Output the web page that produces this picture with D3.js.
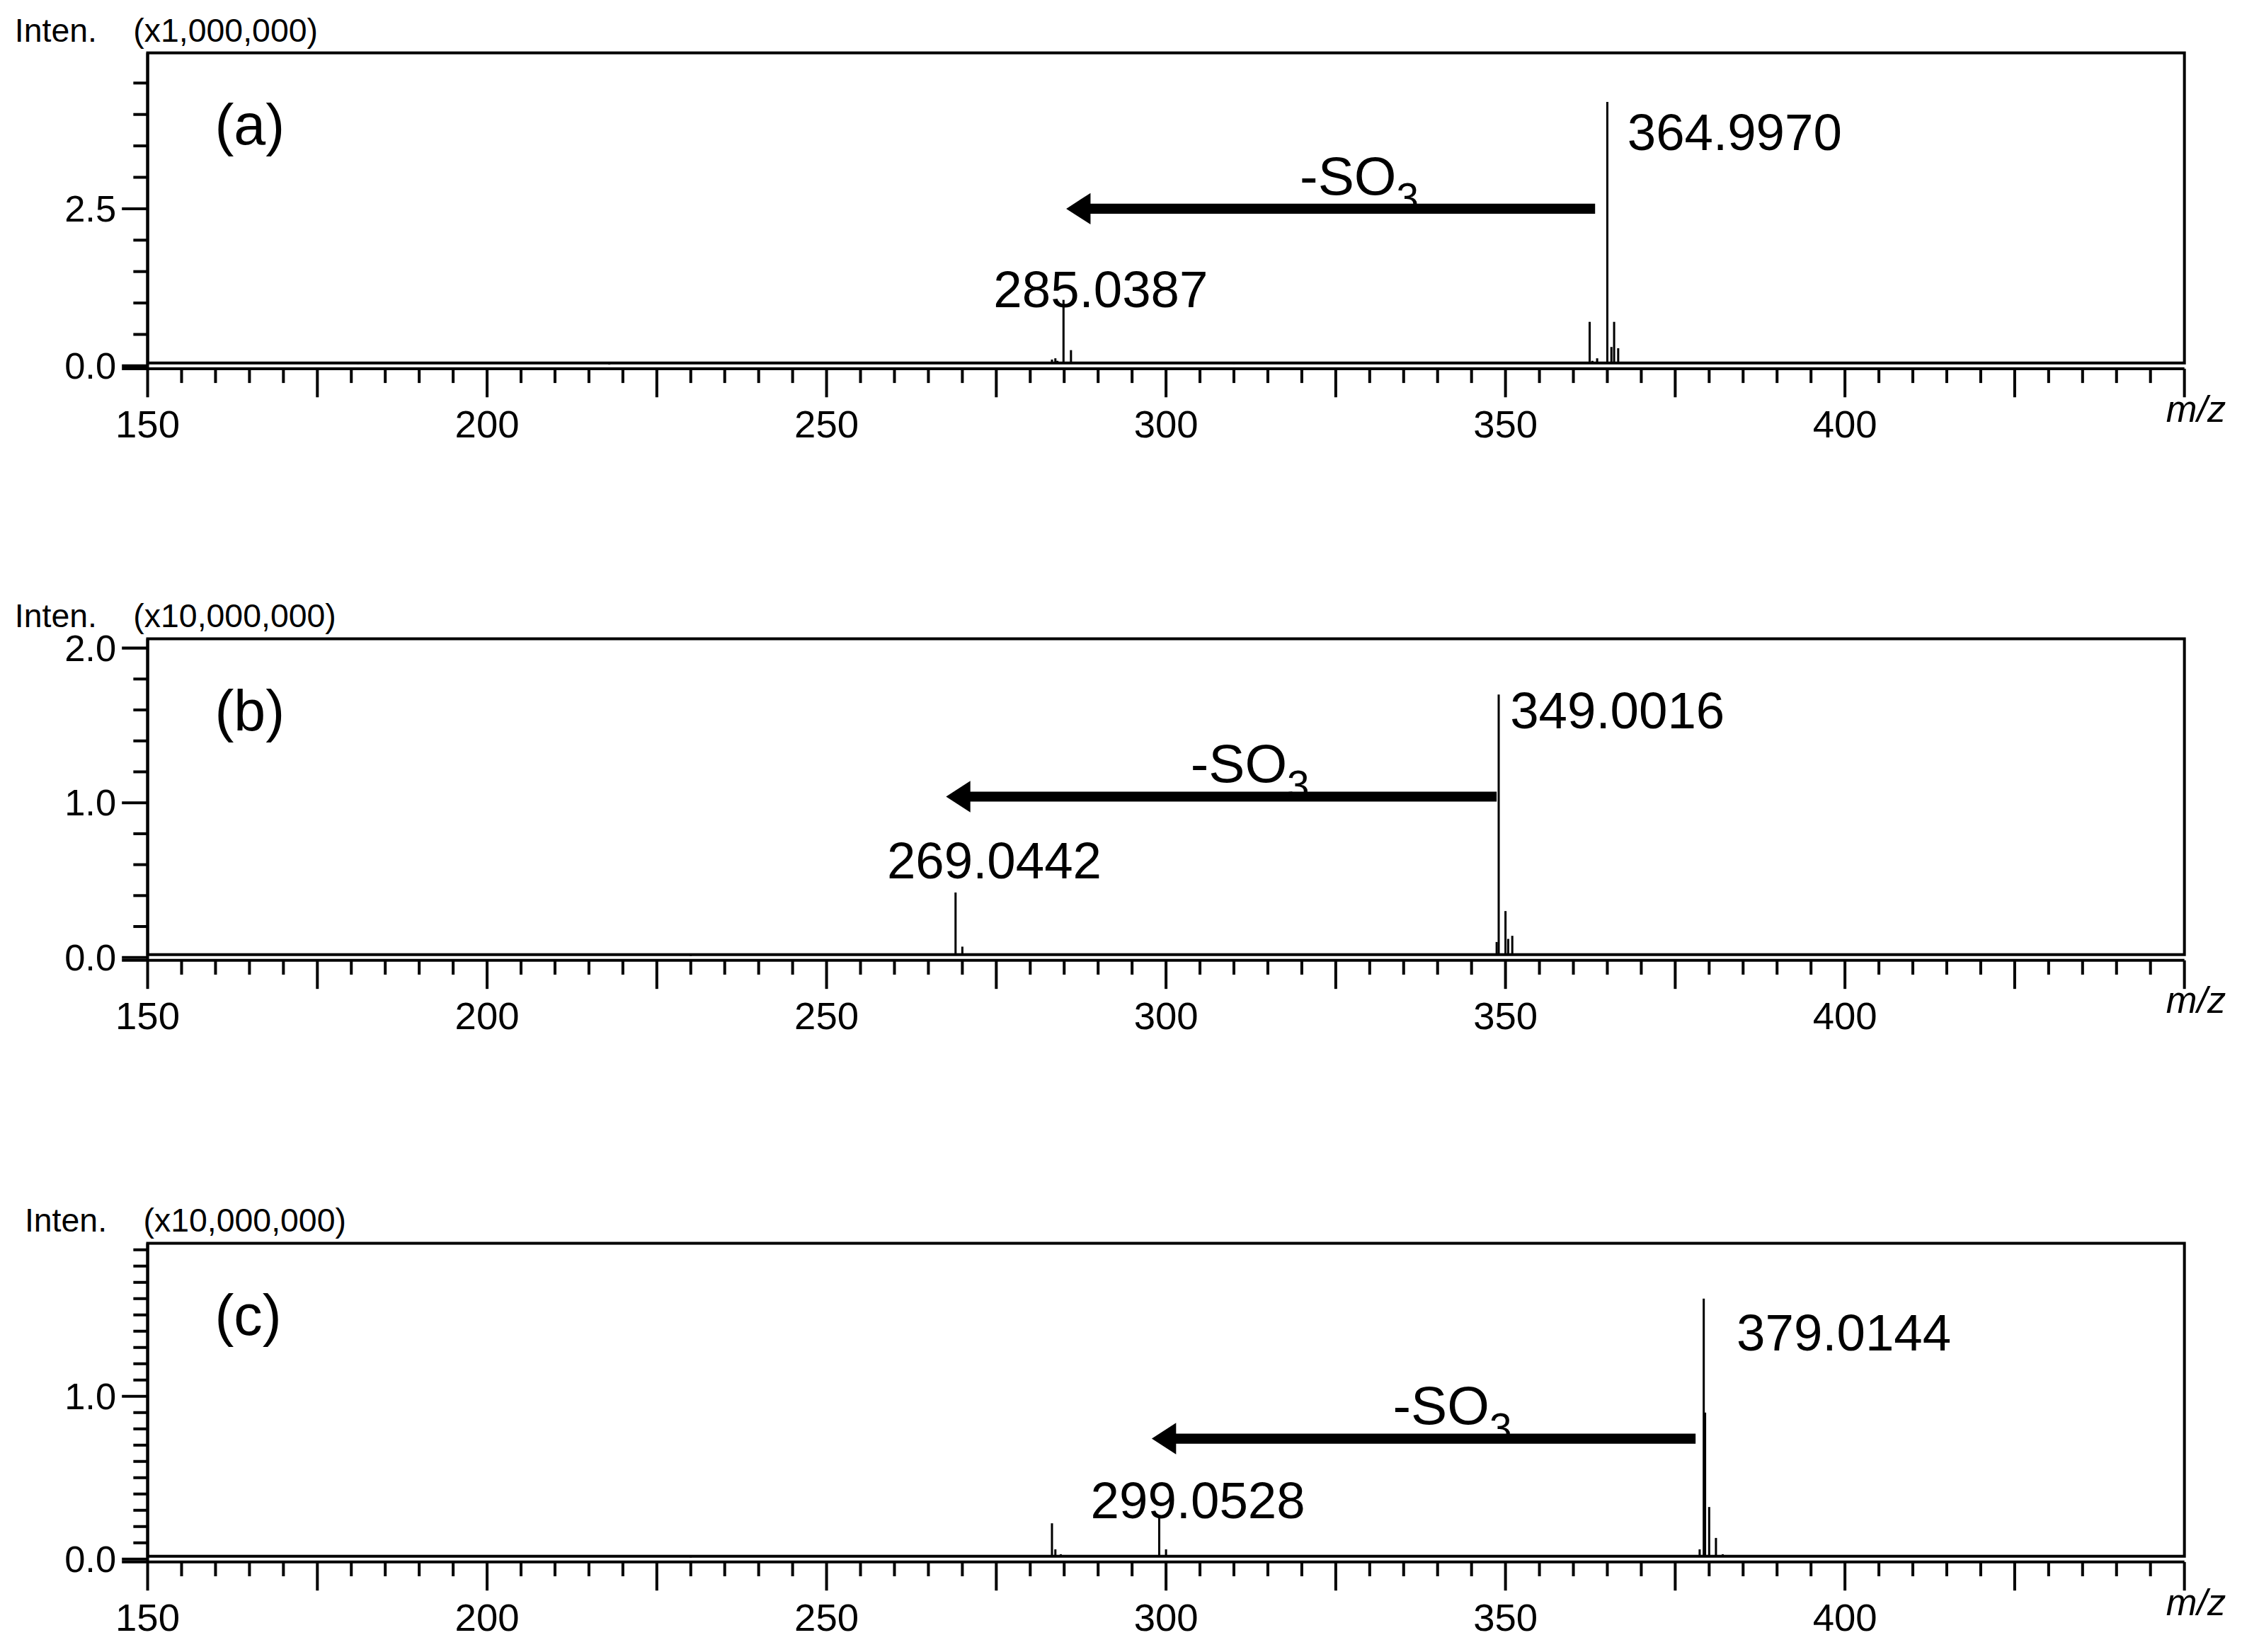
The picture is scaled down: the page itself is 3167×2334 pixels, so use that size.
<!DOCTYPE html>
<html>
<head>
<meta charset="utf-8">
<script src="https://cdn.jsdelivr.net/npm/d3@7"></script>
<style>
  body { margin: 0; background: #fff; }
  text { font-family: "Liberation Sans", Arial, sans-serif; fill: #000; }
</style>
</head>
<body>
<div id="chart-container"></div>
<script>
// m/z and intensity values for each spectrum (intensity in units of the panel scale)
const mzA = [181, 218, 254, 283.2, 283.7, 284.0, 284.9, 286.0, 310, 362.4, 362.8, 363.5, 365.0, 365.6, 366.0, 366.6, 367.5, 380.0];
const intA = [0.03, 0.02, 0.04, 0.1, 0.12, 0.08, 1.05, 0.25, 0.03, 0.7, 0.08, 0.12, 4.2, 0.3, 0.7, 0.28, 0.06, 0.06];
const mzB = [230, 255, 269.0, 270.0, 271.0, 348.7, 349.0, 350.0, 350.4, 351.0, 352.0];
const intB = [0.01, 0.015, 0.42, 0.07, 0.02, 0.1, 1.7, 0.3, 0.12, 0.14, 0.02];
const mzC = [230, 255, 283.2, 283.7, 284.5, 299.0, 300.0, 378.6, 379.2, 379.4, 380.0, 381.0, 382.0];
const intC = [0.01, 0.015, 0.22, 0.06, 0.03, 0.27, 0.06, 0.06, 1.6, 0.9, 0.32, 0.13, 0.03];

const panelNames = ["(a)", "(b)", "(c)"];
const scaleLabels = ["(x1,000,000)", "(x10,000,000)", "(x10,000,000)"];
const yMax = [4.98, 2.06, 1.94];
const yMinorStep = [0.5, 0.2, 0.1];
const yLabelTicks = [[0, 2.5], [0, 1, 2], [0, 1]];
const peakLabels = [
  [{ mz: 284.9, text: "285.0387", y: 0.93, dx: -49 }, { mz: 365.0, text: "364.9970", y: 3.43, dx: 14 }],
  [{ mz: 269.0, text: "269.0442", y: 0.51, dx: -48 }, { mz: 349.0, text: "349.0016", y: 1.48, dx: 8 }],
  [{ mz: 299.0, text: "299.0528", y: 0.25, dx: -48 }, { mz: 379.2, text: "379.0144", y: 1.28, dx: 23 }]
];
const arrowFrom = [363.2, 348.7, 378.0];
const arrowTo = [285.3, 267.6, 297.9];
const arrowY = [2.5, 1.04, 0.74];
const peakSets = [[mzA, intA], [mzB, intB], [mzC, intC]];
const xMajor = [150, 200, 250, 300, 350, 400];

// layout in a 1568 x 1156 design space
const W = 1568, H = 1156;
const left = 103, right = 1528;
const tops = [37, 447, 870];
const bottoms = [256, 670, 1091];

const svg = d3.select("#chart-container")
  .append("svg")
  .attr("width", 3167)
  .attr("height", 2334)
  .attr("viewBox", `0 0 ${W} ${H}`);

const x = d3.scaleLinear().domain([150, 450]).range([left, right]);

panelNames.forEach((name, p) => {
  const top = tops[p], bot = bottoms[p];
  const y = d3.scaleLinear().domain([0, yMax[p]]).range([bot, top]);
  const g = svg.append("g");
  const off = p === 2 ? 7 : 0;

  g.append("text").attr("x", 10 + off).attr("y", 29 + top - 37).attr("font-size", 23).text("Inten.");
  g.append("text").attr("x", 93 + off).attr("y", 29 + top - 37).attr("font-size", 23).text(scaleLabels[p]);

  // frame
  g.append("rect").attr("x", left).attr("y", top).attr("width", right - left).attr("height", bot - 2 - top)
    .attr("fill", "none").attr("stroke", "#000").attr("stroke-width", 2);

  // y axis
  const yTicks = d3.range(0, yMax[p] + 1e-9, yMinorStep[p]);
  const yAxis = g.append("g").attr("transform", `translate(${left},0)`);
  yAxis.append("line").attr("y1", top).attr("y2", bot + 2).attr("stroke", "#000").attr("stroke-width", 2);
  yAxis.selectAll("line.t").data(yTicks).enter().append("line").attr("class", "t")
    .attr("x1", d => yLabelTicks[p].some(v => Math.abs(v - d) < 1e-6) ? -18 : -10).attr("x2", 0)
    .attr("y1", d => y(d)).attr("y2", d => y(d)).attr("stroke", "#000").attr("stroke-width", 2);
  yAxis.selectAll("text").data(yLabelTicks[p]).enter().append("text")
    .attr("x", -22).attr("y", d => y(d) + 9).attr("text-anchor", "end").attr("font-size", 26)
    .text(d => d.toFixed(1));

  // x axis
  const axY = bot + 2;
  const xTicks = d3.range(150, 451, 5);
  const xAxis = g.append("g");
  xAxis.append("line").attr("x1", left - 18).attr("x2", right).attr("y1", axY).attr("y2", axY)
    .attr("stroke", "#000").attr("stroke-width", 2);
  xAxis.selectAll("line.t").data(xTicks).enter().append("line").attr("class", "t")
    .attr("x1", d => x(d)).attr("x2", d => x(d)).attr("y1", axY)
    .attr("y2", d => axY + (d % 25 === 0 ? 20 : 10)).attr("stroke", "#000").attr("stroke-width", 2);
  xAxis.selectAll("text").data(xMajor).enter().append("text")
    .attr("x", d => x(d)).attr("y", axY + 48).attr("text-anchor", "middle").attr("font-size", 27)
    .text(d => d);
  xAxis.append("text").attr("x", 1557).attr("y", axY + 37).attr("text-anchor", "end")
    .attr("font-size", 26).attr("font-style", "italic").text("m/z");

  // peaks
  const [mz, inten] = peakSets[p];
  g.selectAll("line.peak").data(d3.zip(mz, inten)).enter().append("line").attr("class", "peak")
    .attr("x1", d => x(d[0])).attr("x2", d => x(d[0]))
    .attr("y1", bot - 2).attr("y2", d => y(d[1]))
    .attr("stroke", "#000").attr("stroke-width", 1.5);

  g.append("text").attr("x", 150).attr("y", top + 64).attr("font-size", 40).text(name);

  peakLabels[p].forEach(l => {
    g.append("text").attr("x", x(l.mz) + l.dx).attr("y", y(l.y)).attr("font-size", 36).text(l.text);
  });

  // arrow
  const ay = y(arrowY[p]);
  const x1 = x(arrowFrom[p]), x2 = x(arrowTo[p]);
  g.append("line").attr("x1", x1).attr("x2", x2 + 14).attr("y1", ay).attr("y2", ay)
    .attr("stroke", "#000").attr("stroke-width", 7);
  g.append("path").attr("d", `M${x2},${ay} L${x2 + 17},${ay - 11} L${x2 + 17},${ay + 11} Z`).attr("fill", "#000");
  const lbl = g.append("text").attr("x", (x1 + x2) / 2 + 20).attr("y", ay - 10)
    .attr("text-anchor", "middle").attr("font-size", 38);
  lbl.append("tspan").text("-SO");
  lbl.append("tspan").attr("font-size", 28).attr("dy", 12).text("3");
});
</script>
</body>
</html>
